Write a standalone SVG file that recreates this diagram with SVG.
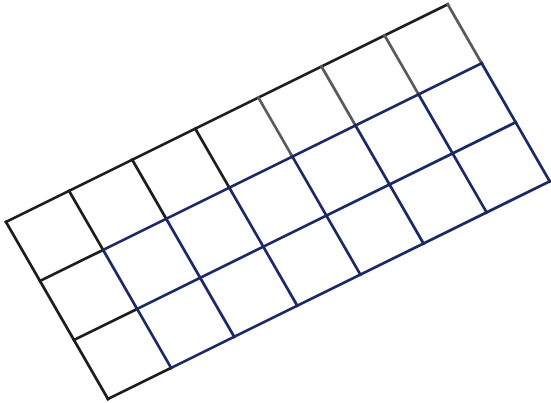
<svg xmlns="http://www.w3.org/2000/svg" width="551" height="403" viewBox="0 0 551 403">
<style>
.k{stroke:#1c1c1c;stroke-width:2.8;fill:none;stroke-linecap:square}
.g{stroke:#5a5a5a;stroke-width:2.8;fill:none;stroke-linecap:square}
.b{stroke:#1a2864;stroke-width:2.8;fill:none;stroke-linecap:square}
</style>
<rect width="551" height="403" fill="#ffffff"/>
<g id="black-lines">
<path class="k" d="M6,222 L447.7,4.3"/>
<path class="k" d="M6,222 L108,399"/>
<path class="k" d="M40,281 L103.1,249.9 M74,340 L137.1,308.9 M108,399 L171.1,367.9"/>
<path class="k" d="M69.1,190.9 L103.1,249.9 M132.2,159.8 L166.2,218.8 M195.3,128.7 L229.3,187.7"/>
<path class="g" d="M258.4,97.6 L292.4,156.6 M321.5,66.5 L355.5,125.5 M384.6,35.4 L418.6,94.4 M447.7,4.3 L481.7,63.3"/>
</g>
<g id="blue-lines">
<path class="b" d="M103.1,249.9 L481.7,63.3 M137.1,308.9 L515.7,122.3 M171.1,367.9 L549.7,181.3"/>
<path class="b" d="M103.1,249.9 L171.1,367.9 M166.2,218.8 L234.2,336.8 M229.3,187.7 L297.3,305.7 M292.4,156.6 L360.4,274.6 M355.5,125.5 L423.5,243.5 M418.6,94.4 L486.6,212.4 M481.7,63.3 L549.7,181.3"/>
</g>
</svg>
